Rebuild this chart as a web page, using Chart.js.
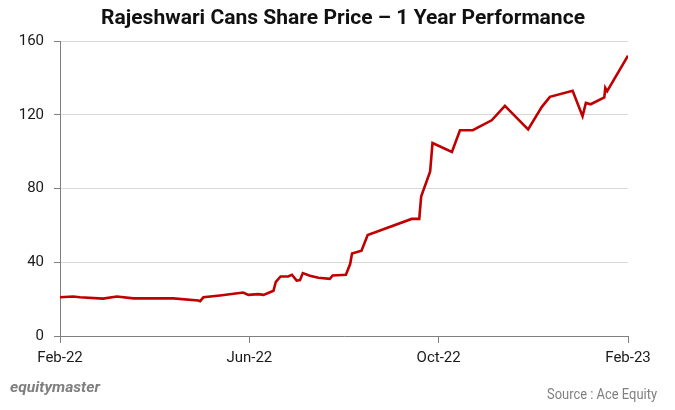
<!DOCTYPE html>
<html>
<head>
<meta charset="utf-8">
<script src="https://cdn.jsdelivr.net/npm/chart.js@4.4.1/dist/chart.umd.min.js"></script>
<style>
  html, body { margin: 0; padding: 0; background: #ffffff; }
  #wrap { width: 675px; height: 410px; position: relative; }
</style>
</head>
<body>
<div id="wrap"><canvas id="c" width="675" height="410"></canvas></div>
<script>
// Chart texts
const chartTitle = "Rajeshwari Cans Share Price \u2013 1 Year Performance";
const brandText = "equitymaster";
const sourceText = "Source : Ace Equity";

// X positions in months since Feb-22 (0 = Feb-22, 12 = Feb-23)
const monthPos = [0, 0.28, 0.42, 0.91, 1.20, 1.55, 2.39, 2.92, 2.96, 3.03, 3.38, 3.87, 3.98, 4.19, 4.30, 4.51,
  4.56, 4.66, 4.82, 4.90, 5.00, 5.07, 5.13, 5.28, 5.46, 5.70, 5.76, 6.04, 6.13, 6.17, 6.37, 6.50,
  7.43, 7.59, 7.63, 7.82, 7.87, 8.28, 8.45, 8.72, 9.12, 9.40, 9.89, 10.18, 10.35, 10.83, 11.04,
  11.11, 11.21, 11.50, 11.52, 11.56, 12.0];
// Share price (Rs)
const price = [21, 21.4, 21, 20.3, 21.4, 20.4, 20.4, 19.3, 18.9, 21.0, 22.0, 23.6, 22.3, 22.7, 22.3, 24.5,
  29.4, 32.3, 32.3, 33.2, 30, 30.3, 34.1, 32.7, 31.6, 31, 32.8, 33.2, 39, 44.8, 46.3, 54.8,
  63.5, 63.5, 75.6, 89.3, 104.7, 99.8, 111.6, 111.6, 117, 124.8, 112.1, 124.3, 129.7, 133, 119.2,
  126.4, 125.7, 129.4, 134.6, 132.8, 152];

// Axis ticks
const xTickPos = [0, 4, 8, 12];
const xTickLabels = ["Feb-22", "Jun-22", "Oct-22", "Feb-23"];
const yTicks = [0, 40, 80, 120, 160];

const points = monthPos.map((m, i) => ({ x: m, y: price[i] }));

function drawFitted(ctx, text, font, color, x, y, width, align) {
  ctx.save();
  ctx.font = font;
  ctx.fillStyle = color;
  ctx.textBaseline = 'middle';
  const w = ctx.measureText(text).width;
  const sx = width / w;
  let left = x;
  if (align === 'center') left = x - width / 2;
  else if (align === 'right') left = x - width;
  ctx.translate(left, y);
  ctx.scale(sx, 1);
  ctx.textAlign = 'left';
  ctx.fillText(text, 0, 0);
  ctx.restore();
}

const overlayPlugin = {
  id: 'overlay',
  afterDraw(chart) {
    const ctx = chart.ctx;
    drawFitted(ctx, chartTitle, 'bold 21px Roboto', '#111111', 343, 19, 484, 'center');
    drawFitted(ctx, brandText, 'italic bold 15px Roboto', '#7f7f7f', 10, 388, 90, 'left');
    drawFitted(ctx, sourceText, '14px Roboto', '#808080', 657, 395, 110, 'right');
  }
};

new Chart(document.getElementById('c'), {
  type: 'line',
  data: {
    datasets: [{
      data: points,
      borderColor: '#C00000',
      borderWidth: 2.6,
      pointRadius: 0,
      tension: 0,
      fill: false
    }]
  },
  options: {
    responsive: false,
    animation: false,
    parsing: true,
    layout: { padding: { left: 0, right: 47, top: 41, bottom: 44 } },
    plugins: { legend: { display: false }, title: { display: false }, tooltip: { enabled: false } },
    scales: {
      x: {
        type: 'linear',
        min: 0, max: 12,
        afterBuildTicks(scale) { scale.ticks = xTickPos.map(v => ({ value: v })); },
        afterFit(scale) { scale.height = 30; },
        ticks: {
          autoSkip: false,
          maxRotation: 0,
          padding: 6,
          color: '#1a1a1a',
          font: { family: 'Roboto', size: 15 },
          callback(v) { const i = xTickPos.indexOf(v); return i >= 0 ? xTickLabels[i] : ''; }
        },
        grid: { drawOnChartArea: false, drawTicks: true, tickLength: 7, color: '#808080', tickColor: '#808080' },
        border: { display: true, color: '#808080', width: 1 }
      },
      y: {
        min: 0, max: 160,
        afterBuildTicks(scale) { scale.ticks = yTicks.map(v => ({ value: v })); },
        afterFit(scale) { scale.width = 60; },
        ticks: {
          padding: 10,
          color: '#1a1a1a',
          font: { family: 'Roboto', size: 15 }
        },
        grid: { color: '#d9d9d9', lineWidth: 1, tickLength: 6, tickColor: '#808080' },
        border: { display: true, color: '#808080', width: 1 }
      }
    }
  },
  plugins: [overlayPlugin]
});
</script>
</body>
</html>
